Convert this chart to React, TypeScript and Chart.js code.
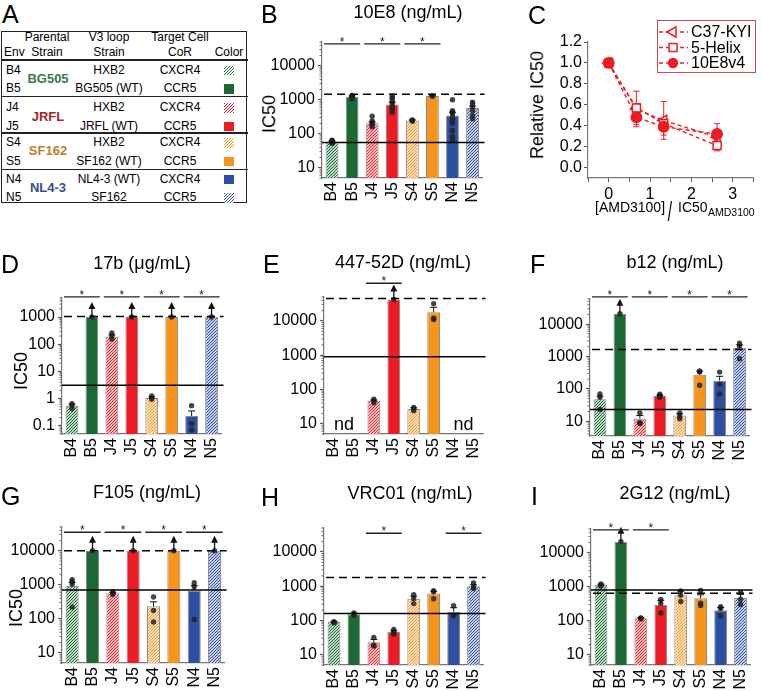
import React, { useEffect, useRef } from 'react';
import { Chart, registerables } from 'chart.js';
Chart.register(...registerables);

const FONT = '"Liberation Sans", Arial, Helvetica, sans-serif';
Chart.defaults.font.family = FONT;
Chart.defaults.color = '#000';

// ---------- shared categories / styles ----------
const ENVS = ['B4', 'B5', 'J4', 'J5', 'S4', 'S5', 'N4', 'N5'];
const GREEN = '#1b6a34';
const RED = '#ed1c24';
const ORANGE = '#f7941d';
const BLUE = '#2d4fa1';
const BAR_COLORS = [GREEN, GREEN, RED, RED, ORANGE, ORANGE, BLUE, BLUE];
const HATCHED = [true, false, true, false, true, false, false, true];
const LOG_TICKS = [0.1, 1, 10, 100, 1000, 10000];
const ALL_PAIRS = [[0, 1], [2, 3], [4, 5], [6, 7]];

// ---------- table (panel A) ----------
const T_V3 = ['HXB2', 'BG505 (WT)', 'HXB2', 'JRFL (WT)', 'HXB2', 'SF162 (WT)', 'NL4-3 (WT)', 'SF162'];
const T_COR = ['CXCR4', 'CCR5', 'CXCR4', 'CCR5', 'CXCR4', 'CCR5', 'CXCR4', 'CCR5'];
const T_PARENTS = ['BG505', 'JRFL', 'SF162', 'NL4-3'];
const T_PARENT_COLORS = ['#3b7a4c', '#9e2a2b', '#b5842c', '#3c4c8c'];

// ---------- panel B: 10E8 ----------
const B_MEAN = [58, 1200, 205, 730, 245, 1280, 345, 570];
const B_SEM = [4, 90, 20, 110, 10, 30, 85, 90];
const B_PTS = [[52, 56, 60, 62, 65, 58], [1050, 1150, 1250, 1350, 1200], [160, 180, 195, 210, 240, 330], [420, 520, 600, 700, 850, 1000, 1150, 1300], [235, 245, 255], [1280, 1300], [1000, 480, 430, 400, 310, 245, 200, 125, 83, 67], [850, 760, 600, 480, 340, 275]];
const B_CENS = [false, false, false, false, false, false, false, false];
const B_PAIRS = [[0, 1], [2, 3], [4, 5]];

// ---------- panel C ----------
const C_X = [0, 0.67, 1.33, 2.62];
const C_C37 = [1.0, 0.56, 0.45, 0.29];
const C_C37_ERR = [0, 0.05, 0.18, 0.04];
const C_HELIX = [1.0, 0.57, 0.42, 0.21];
const C_HELIX_ERR = [0, 0.16, 0.05, 0.05];
const C_E8 = [1.0, 0.48, 0.39, 0.32];
const C_E8_ERR = [0, 0.09, 0.08, 0.1];
const C_YTICKS = [0, 0.2, 0.4, 0.6, 0.8, 1.0, 1.2];
const C_XTICKS = [-0.5, 0, 0.5, 1, 1.5, 2, 2.5, 3, 3.5];
const C_LABELS = ['C37-KYI', '5-Helix', '10E8v4'];

// ---------- panel D: 17b ----------
const D_MEAN = [0.55, 1000, 190, 1000, 1.05, 1000, 0.23, 1000];
const D_SEM = [0.07, 0, 30, 0, 0.1, 0, 0.12, 0];
const D_PTS = [[0.65, 0.55, 0.42], [1000], [260, 200, 155], [1000], [1.25, 1.05, 0.95], [1000], [0.55, 0.12, 0.07], [1000]];
const D_CENS = [false, true, false, true, false, true, false, true];

// ---------- panel E: 447-52D ----------
const E_MEAN = [null, null, 46, 42000, 27, 18000, null, null];
const E_SEM = [0, 0, 3, 0, 2, 7000, 0, 0];
const E_PTS = [[], [], [52, 46, 41], [42000], [30, 27, 24], [32000, 12000, 11000], [], []];
const E_CENS = [false, false, false, true, false, false, false, false];
const E_PAIRS = [[2, 3]];
const E_ND = [[0, 1], [6, 7]];

// ---------- panel F: b12 ----------
const F_MEAN = [48, 21000, 12, 60, 15, 275, 180, 1850];
const F_SEM = [12, 0, 3, 4, 2, 80, 65, 450];
const F_PTS = [[70, 55, 23], [21000], [18, 9, 8.5], [68, 62, 58, 55], [18, 14, 12], [360, 330, 130], [330, 140, 70], [2600, 2100, 850]];
const F_CENS = [false, true, false, false, false, false, false, false];

// ---------- panel G: F105 ----------
const G_MEAN = [920, 10000, 560, 10000, 235, 10000, 660, 10000];
const G_SEM = [250, 0, 40, 0, 80, 0, 300, 0];
const G_PTS = [[1400, 1250, 1050, 220], [10000], [620, 560, 520], [10000], [440, 175, 80], [10000], [1150, 880, 95], [10000]];
const G_CENS = [false, true, false, true, false, true, false, true];

// ---------- panel H: VRC01 ----------
const H_MEAN = [90, 152, 23, 46, 430, 610, 180, 1000];
const H_SEM = [4, 12, 5, 4, 80, 100, 55, 100];
const H_PTS = [[88, 92, 86], [165, 150, 140], [32, 19, 18], [55, 48, 42, 40], [560, 430, 310], [740, 690, 430], [270, 140, 135], [1250, 950, 850]];
const H_CENS = [false, false, false, false, false, false, false, false];
const H_PAIRS = [[2, 3], [6, 7]];

// ---------- panel I: 2G12 ----------
const I_MEAN = [1130, 21000, 118, 290, 560, 460, 205, 470];
const I_SEM = [60, 0, 5, 110, 180, 120, 40, 130];
const I_PTS = [[1200, 1100, 1050], [21000], [122, 118, 112], [420, 330, 170], [750, 560, 370], [780, 330, 280], [260, 230, 140], [680, 430, 300]];
const I_CENS = [false, true, false, false, false, false, false, false];
const I_PAIRS = [[0, 1], [2, 3]];

type BarPanel = {
  mean: (number | null)[]; sem: number[]; pts: number[][]; cens: boolean[];
  solid: number; dashed: number; pairs: number[][]; bracket: number; nd?: number[][];
  min: number; max: number; rect: [number, number, number, number];
};

const PANELS: Record<string, BarPanel> = {
  B: { mean: B_MEAN, sem: B_SEM, pts: B_PTS, cens: B_CENS, solid: 55, dashed: 1450, pairs: B_PAIRS, bracket: 44000, min: 5, max: 50000, rect: [322, 42, 492, 178] },
  D: { mean: D_MEAN, sem: D_SEM, pts: D_PTS, cens: D_CENS, solid: 3.1, dashed: 1050, pairs: ALL_PAIRS, bracket: 5500, min: 0.05, max: 5000, rect: [62, 298, 231, 434] },
  E: { mean: E_MEAN, sem: E_SEM, pts: E_PTS, cens: E_CENS, solid: 900, dashed: 45000, pairs: E_PAIRS, bracket: 126000, nd: E_ND, min: 5, max: 50000, rect: [324, 297, 493, 434] },
  F: { mean: F_MEAN, sem: F_SEM, pts: F_PTS, cens: F_CENS, solid: 23, dashed: 1650, pairs: ALL_PAIRS, bracket: 70000, min: 3.5, max: 60000, rect: [590, 299, 759, 436] },
  G: { mean: G_MEAN, sem: G_SEM, pts: G_PTS, cens: G_CENS, solid: 700, dashed: 10000, pairs: ALL_PAIRS, bracket: 35000, min: 5, max: 50000, rect: [62, 527, 234, 663] },
  H: { mean: H_MEAN, sem: H_SEM, pts: H_PTS, cens: H_CENS, solid: 160, dashed: 1800, pairs: H_PAIRS, bracket: 35000, min: 5, max: 50000, rect: [324, 528, 493, 665] },
  I: { mean: I_MEAN, sem: I_SEM, pts: I_PTS, cens: I_CENS, solid: 800, dashed: 650, pairs: I_PAIRS, bracket: 47000, min: 5, max: 50000, rect: [591, 529, 760, 665] },
};

const YW = 56, XH = 26, PT = 24, PR = 4;

function makeHatch(color: string) {
  const s = 3;
  const c = document.createElement('canvas');
  c.width = s; c.height = s;
  const g = c.getContext('2d')!;
  g.fillStyle = '#fff';
  g.fillRect(0, 0, s, s);
  g.strokeStyle = color;
  g.lineWidth = 1.1;
  g.beginPath();
  g.moveTo(0, s); g.lineTo(s, 0);
  g.moveTo(-1, 1); g.lineTo(1, -1);
  g.moveTo(s - 1, s + 1); g.lineTo(s + 1, s - 1);
  g.stroke();
  return g.createPattern(c, 'repeat')!;
}

function barDecor(p: BarPanel) {
  return {
    id: 'barDecor',
    afterDatasetsDraw(chart: any) {
      const { ctx, chartArea: ca } = chart;
      const x = chart.scales.x, y = chart.scales.y;
      const half = (x.getPixelForValue(1) - x.getPixelForValue(0)) / 2;
      ctx.save();
      // error bars (upper)
      ctx.strokeStyle = '#111';
      ctx.lineWidth = 1;
      p.mean.forEach((m, i) => {
        if (m == null || !p.sem[i]) return;
        const cx = x.getPixelForValue(i);
        const y0 = y.getPixelForValue(m), y1 = y.getPixelForValue(m + p.sem[i]);
        ctx.beginPath();
        ctx.moveTo(cx, y0); ctx.lineTo(cx, y1);
        ctx.moveTo(cx - 3.5, y1); ctx.lineTo(cx + 3.5, y1);
        ctx.stroke();
      });
      // arrows for censored bars
      ctx.fillStyle = '#111';
      ctx.lineWidth = 1.3;
      p.mean.forEach((m, i) => {
        if (m == null || !p.cens[i]) return;
        const cx = x.getPixelForValue(i);
        const y0 = y.getPixelForValue(m);
        ctx.beginPath(); ctx.moveTo(cx, y0); ctx.lineTo(cx, y0 - 9); ctx.stroke();
        ctx.beginPath();
        ctx.moveTo(cx, y0 - 15); ctx.lineTo(cx - 3.5, y0 - 8); ctx.lineTo(cx + 3.5, y0 - 8);
        ctx.closePath(); ctx.fill();
      });
      // reference lines
      ctx.strokeStyle = '#000';
      ctx.lineWidth = 1.5;
      const ys = y.getPixelForValue(p.solid);
      ctx.beginPath(); ctx.moveTo(ca.left, ys); ctx.lineTo(ca.right + 2, ys); ctx.stroke();
      const yd = y.getPixelForValue(p.dashed);
      ctx.setLineDash([8, 5]);
      ctx.beginPath(); ctx.moveTo(ca.left + 2, yd); ctx.lineTo(ca.right + 2, yd); ctx.stroke();
      ctx.setLineDash([]);
      // significance brackets
      const yb = y.getPixelForValue(p.bracket);
      ctx.lineWidth = 1.4;
      ctx.strokeStyle = '#222';
      ctx.fillStyle = '#222';
      ctx.font = `12px ${FONT}`;
      ctx.textAlign = 'center';
      ctx.textBaseline = 'alphabetic';
      p.pairs.forEach(([a, b]) => {
        const x0 = x.getPixelForValue(a) - half + 2, x1 = x.getPixelForValue(b) + half - 2;
        ctx.beginPath(); ctx.moveTo(x0, yb); ctx.lineTo(x1, yb); ctx.stroke();
        ctx.fillText('*', (x0 + x1) / 2, yb + 2);
      });
      // not determined
      if (p.nd) {
        ctx.font = `18px ${FONT}`;
        ctx.fillStyle = '#000';
        p.nd.forEach(([a, b]) => {
          ctx.fillText('nd', (x.getPixelForValue(a) + x.getPixelForValue(b)) / 2, ca.bottom - 4);
        });
      }
      ctx.restore();
    },
    afterDraw(chart: any) {
      const { ctx, chartArea: ca } = chart;
      const y = chart.scales.y;
      ctx.save();
      ctx.strokeStyle = '#666';
      ctx.lineWidth = 1;
      for (let d = Math.floor(Math.log10(p.min)); d <= Math.ceil(Math.log10(p.max)); d++) {
        for (let k = 2; k <= 9; k++) {
          const v = k * Math.pow(10, d);
          if (v < p.min || v > p.max) continue;
          const py = y.getPixelForValue(v);
          ctx.beginPath(); ctx.moveTo(ca.left, py); ctx.lineTo(ca.left - 2.5, py); ctx.stroke();
        }
      }
      ctx.restore();
    },
  };
}

function BarChart({ p }: { p: BarPanel }) {
  const ref = useRef<HTMLCanvasElement>(null);
  const [l, t, r, b] = p.rect;
  const W = r - l + YW + PR, H = b - t + PT + XH;
  useEffect(() => {
    const cv = ref.current!;
    const fills = BAR_COLORS.map((c, i) => (HATCHED[i] ? makeHatch(c) : c));
    const chart = new Chart(cv, {
      type: 'bar',
      data: {
        labels: ENVS,
        datasets: [
          {
            type: 'scatter',
            data: p.pts.flatMap((arr, i) => arr.map((v) => ({ x: ENVS[i], y: v }))),
            pointRadius: 2.7,
            pointBackgroundColor: 'rgba(35,35,35,0.85)',
            pointBorderWidth: 0,
            order: 0,
          } as any,
          {
            type: 'bar',
            data: p.mean as any,
            backgroundColor: fills as any,
            borderColor: '#8a8a8a',
            borderWidth: 1,
            barPercentage: 0.64,
            categoryPercentage: 1,
            order: 1,
          },
        ],
      },
      options: {
        responsive: false,
        animation: false,
        events: [],
        layout: { padding: { top: PT, right: PR, left: 0, bottom: 0 } },
        plugins: { legend: { display: false }, tooltip: { enabled: false }, title: { display: false } },
        scales: {
          x: {
            type: 'category',
            grid: { display: false, drawTicks: false },
            border: { display: true, color: '#777', width: 1.2 },
            ticks: { font: { size: 16 }, color: '#000', minRotation: 90, maxRotation: 90, padding: 4, autoSkip: false },
            afterFit: (s: any) => { s.height = XH; },
          },
          y: {
            type: 'logarithmic',
            min: p.min,
            max: p.max,
            grid: { drawOnChartArea: false, drawTicks: true, tickLength: 4, tickColor: '#555', tickWidth: 1.2 },
            border: { display: true, color: '#777', width: 1.2 },
            ticks: { font: { size: 16 }, color: '#000', padding: 3, autoSkip: false, callback: (v: any) => String(v) },
            afterBuildTicks: (s: any) => {
              s.ticks = LOG_TICKS.filter((v) => v >= p.min && v <= p.max).map((v) => ({ value: v }));
            },
            afterFit: (s: any) => { s.width = YW; },
          },
        },
      } as any,
      plugins: [barDecor(p)],
    });
    return () => chart.destroy();
  }, []);
  return <canvas ref={ref} width={W} height={H} style={{ position: 'absolute', left: l - YW, top: t - PT, width: W, height: H }} />;
}

// ---------- panel C chart ----------
const C_RECT = [588, 42, 757, 178];
const C_YW = 40, C_PT = 27, C_XH = 26, C_PR = 4;
const C_LEFT = C_RECT[0] - C_YW, C_TOP = C_RECT[1] - C_PT;

function drawMarker(ctx: CanvasRenderingContext2D, kind: number, cx: number, cy: number) {
  ctx.save();
  ctx.strokeStyle = RED;
  ctx.lineWidth = 1.5;
  ctx.setLineDash([]);
  ctx.beginPath();
  if (kind === 0) {
    const r = 6;
    ctx.moveTo(cx - r, cy);
    ctx.lineTo(cx + r * 0.5, cy - r * 0.866);
    ctx.lineTo(cx + r * 0.5, cy + r * 0.866);
    ctx.closePath();
    ctx.fillStyle = '#fff'; ctx.fill(); ctx.stroke();
  } else if (kind === 1) {
    ctx.rect(cx - 4, cy - 4, 8, 8);
    ctx.fillStyle = '#fff'; ctx.fill(); ctx.stroke();
  } else {
    ctx.arc(cx, cy, 5.2, 0, Math.PI * 2);
    ctx.fillStyle = RED; ctx.fill();
  }
  ctx.restore();
}

const cDecor = {
  id: 'cDecor',
  beforeDatasetsDraw(chart: any) {
    const { ctx } = chart;
    const x = chart.scales.x, y = chart.scales.y;
    ctx.save();
    ctx.strokeStyle = RED;
    ctx.lineWidth = 1;
    const sets = [[C_C37, C_C37_ERR], [C_HELIX, C_HELIX_ERR], [C_E8, C_E8_ERR]];
    sets.forEach(([vals, errs]) => {
      vals.forEach((v, i) => {
        if (!errs[i]) return;
        const px = x.getPixelForValue(C_X[i]);
        const y0 = y.getPixelForValue(v - errs[i]), y1 = y.getPixelForValue(v + errs[i]);
        ctx.beginPath();
        ctx.moveTo(px, y0); ctx.lineTo(px, y1);
        ctx.moveTo(px - 3, y0); ctx.lineTo(px + 3, y0);
        ctx.moveTo(px - 3, y1); ctx.lineTo(px + 3, y1);
        ctx.stroke();
      });
    });
    ctx.restore();
  },
  afterDraw(chart: any) {
    const { ctx } = chart;
    ctx.save();
    const bx = 657 - C_LEFT, by = 20 - C_TOP;
    ctx.fillStyle = '#fff';
    ctx.fillRect(bx, by, 98, 52);
    ctx.strokeStyle = '#c94a4a';
    ctx.lineWidth = 1;
    ctx.strokeRect(bx + 0.5, by + 0.5, 98, 52);
    ctx.font = `16px ${FONT}`;
    ctx.textBaseline = 'middle';
    ctx.textAlign = 'left';
    C_LABELS.forEach((lab, i) => {
      const yy = 32 + i * 15.5 - C_TOP;
      ctx.strokeStyle = RED;
      ctx.lineWidth = 1.3;
      ctx.setLineDash([4, 3]);
      ctx.beginPath(); ctx.moveTo(659 - C_LEFT, yy); ctx.lineTo(688 - C_LEFT, yy); ctx.stroke();
      ctx.setLineDash([]);
      drawMarker(ctx, i, 673 - C_LEFT, yy);
      ctx.fillStyle = '#000';
      ctx.fillText(lab, 691 - C_LEFT, yy + 1);
    });
    ctx.restore();
  },
};

function ChartC() {
  const ref = useRef<HTMLCanvasElement>(null);
  const W = C_RECT[2] - C_RECT[0] + C_YW + C_PR, H = C_RECT[3] - C_RECT[1] + C_PT + C_XH;
  useEffect(() => {
    const cv = ref.current!;
    const series = [C_C37, C_HELIX, C_E8];
    const styles = [
      { pointStyle: 'triangle', pointRotation: -90, pointRadius: 6, pointBackgroundColor: '#fff' },
      { pointStyle: 'rect', pointRotation: 0, pointRadius: 5.7, pointBackgroundColor: '#fff' },
      { pointStyle: 'circle', pointRotation: 0, pointRadius: 5.2, pointBackgroundColor: RED },
    ];
    const chart = new Chart(cv, {
      type: 'line',
      data: {
        datasets: series.map((s, k) => ({
          label: C_LABELS[k],
          data: s.map((v, i) => ({ x: C_X[i], y: v })),
          borderColor: RED,
          borderWidth: 1.4,
          borderDash: [4, 3],
          tension: 0,
          pointBorderColor: RED,
          pointBorderWidth: 1.5,
          ...styles[k],
          order: 3 - k,
        })) as any,
      },
      options: {
        responsive: false,
        animation: false,
        events: [],
        layout: { padding: { top: C_PT, right: C_PR, left: 0, bottom: 0 } },
        plugins: { legend: { display: false }, tooltip: { enabled: false } },
        scales: {
          x: {
            type: 'linear', min: -0.5, max: 3.5,
            grid: { drawOnChartArea: false, drawTicks: true, tickLength: 4, tickColor: '#555' },
            border: { display: true, color: '#777', width: 1.2 },
            ticks: { font: { size: 16 }, color: '#000', padding: 3, autoSkip: false, maxRotation: 0,
              callback: (v: any) => (Number.isInteger(v) ? String(v) : '') },
            afterBuildTicks: (s: any) => { s.ticks = C_XTICKS.map((v) => ({ value: v })); },
            afterFit: (s: any) => { s.height = C_XH; },
          },
          y: {
            type: 'linear', min: -0.1, max: 1.2,
            grid: { drawOnChartArea: false, drawTicks: true, tickLength: 4, tickColor: '#555' },
            border: { display: true, color: '#777', width: 1.2 },
            ticks: { font: { size: 16 }, color: '#000', padding: 2, autoSkip: false, callback: (v: any) => Number(v).toFixed(1) },
            afterBuildTicks: (s: any) => { s.ticks = C_YTICKS.map((v) => ({ value: v })); },
            afterFit: (s: any) => { s.width = C_YW; },
          },
        },
      } as any,
      plugins: [cDecor],
    });
    return () => chart.destroy();
  }, []);
  return <canvas ref={ref} width={W} height={H} style={{ position: 'absolute', left: C_LEFT, top: C_TOP, width: W, height: H }} />;
}

// ---------- HTML text helpers ----------
function Tx({ x, y, s, children, align = 'left', color = '#000', weight = 400, extra = '' }: any) {
  const tx = align === 'center' ? '-50%' : align === 'right' ? '-100%' : '0';
  return (
    <div style={{ position: 'absolute', left: x, top: y - 0.9465 * s, fontSize: s, lineHeight: `${s * 1.2}px`, fontFamily: FONT, color, fontWeight: weight, whiteSpace: 'nowrap', transform: `translateX(${tx}) ${extra}` }}>
      {children}
    </div>
  );
}

function Rot({ cx, cy, s, children }: any) {
  return (
    <div style={{ position: 'absolute', left: cx, top: cy, fontSize: s, lineHeight: `${s * 1.2}px`, fontFamily: FONT, color: '#000', whiteSpace: 'nowrap', transform: 'translate(-50%,-50%) rotate(-90deg)' }}>
      {children}
    </div>
  );
}

function hatchCss(c: string) {
  return `repeating-linear-gradient(-45deg, ${c} 0px, ${c} 1px, #fff 1px, #fff 2.2px)`;
}

function TableA() {
  const rowBase = [74, 92.5, 111.7, 130, 146.7, 165, 183, 201.5];
  const parentBase = [83, 121, 155.5, 192];
  const seps = [60, 96.7, 133, 169.3];
  return (
    <>
      <div style={{ position: 'absolute', left: 1, top: 31, width: 244, height: 170, border: '1.6px solid #222' }} />
      {seps.map((y, i) => (
        <div key={i} style={{ position: 'absolute', left: 1, top: y - 0.8, width: 247, height: 1.6, background: '#222' }} />
      ))}
      <Tx x={4} y={56} s={12}>Env</Tx>
      <Tx x={47} y={41} s={12} align="center">Parental</Tx>
      <Tx x={47} y={56} s={12} align="center">Strain</Tx>
      <Tx x={109} y={41} s={12} align="center">V3 loop</Tx>
      <Tx x={109} y={56} s={12} align="center">Strain</Tx>
      <Tx x={180} y={41} s={12} align="center">Target Cell</Tx>
      <Tx x={180} y={56} s={12} align="center">CoR</Tx>
      <Tx x={229} y={56} s={12} align="center">Color</Tx>
      {ENVS.map((e, i) => (
        <React.Fragment key={e}>
          <Tx x={6} y={rowBase[i]} s={12}>{e}</Tx>
          <Tx x={109} y={rowBase[i]} s={12} align="center">{T_V3[i]}</Tx>
          <Tx x={180} y={rowBase[i]} s={12} align="center">{T_COR[i]}</Tx>
          <div style={{ position: 'absolute', left: 224, top: rowBase[i] - 8.5, width: 9.5, height: 9.5, background: HATCHED[i] ? hatchCss(BAR_COLORS[i]) : BAR_COLORS[i] }} />
        </React.Fragment>
      ))}
      {T_PARENTS.map((p, i) => (
        <Tx key={p} x={48} y={parentBase[i]} s={13} align="center" color={T_PARENT_COLORS[i]} weight={700}>{p}</Tx>
      ))}
    </>
  );
}

export default function App() {
  return (
    <div style={{ position: 'absolute', left: 0, top: 0, width: 763, height: 691, overflow: 'hidden', background: '#fff', fontFamily: FONT }}>
      <TableA />
      <BarChart p={PANELS.B} />
      <ChartC />
      <BarChart p={PANELS.D} />
      <BarChart p={PANELS.E} />
      <BarChart p={PANELS.F} />
      <BarChart p={PANELS.G} />
      <BarChart p={PANELS.H} />
      <BarChart p={PANELS.I} />

      <Tx x={2} y={22.5} s={25}>A</Tx>
      <Tx x={261} y={23} s={25}>B</Tx>
      <Tx x={528} y={24} s={25}>C</Tx>
      <Tx x={1} y={273} s={25}>D</Tx>
      <Tx x={263} y={273} s={25}>E</Tx>
      <Tx x={530} y={273} s={25}>F</Tx>
      <Tx x={1} y={505} s={25}>G</Tx>
      <Tx x={261} y={506} s={25}>H</Tx>
      <Tx x={531} y={505} s={25}>I</Tx>

      <Tx x={408} y={19} s={18} align="center">10E8 (ng/mL)</Tx>
      <Tx x={142} y={270} s={18} align="center">17b (μg/mL)</Tx>
      <Tx x={403} y={269} s={18} align="center">447-52D (ng/mL)</Tx>
      <Tx x={675} y={269} s={18} align="center">b12 (ng/mL)</Tx>
      <Tx x={147} y={499} s={18} align="center">F105 (ng/mL)</Tx>
      <Tx x={410} y={500} s={18} align="center">VRC01 (ng/mL)</Tx>
      <Tx x={675} y={500} s={18} align="center">2G12 (ng/mL)</Tx>

      <Rot cx={270} cy={114} s={18}>IC50</Rot>
      <Rot cx={22} cy={371} s={18}>IC50</Rot>
      <Rot cx={17} cy={608} s={18}>IC50</Rot>
      <Rot cx={538} cy={105} s={18}>Relative IC50</Rot>

      <Tx x={595} y={212} s={14}>[AMD3100]</Tx>
      <Tx x={666} y={222} s={28} extra="scaleX(0.55)">/</Tx>
      <Tx x={678} y={212} s={14}>IC50</Tx>
      <Tx x={708} y={216} s={10.5}>AMD3100</Tx>
    </div>
  );
}
